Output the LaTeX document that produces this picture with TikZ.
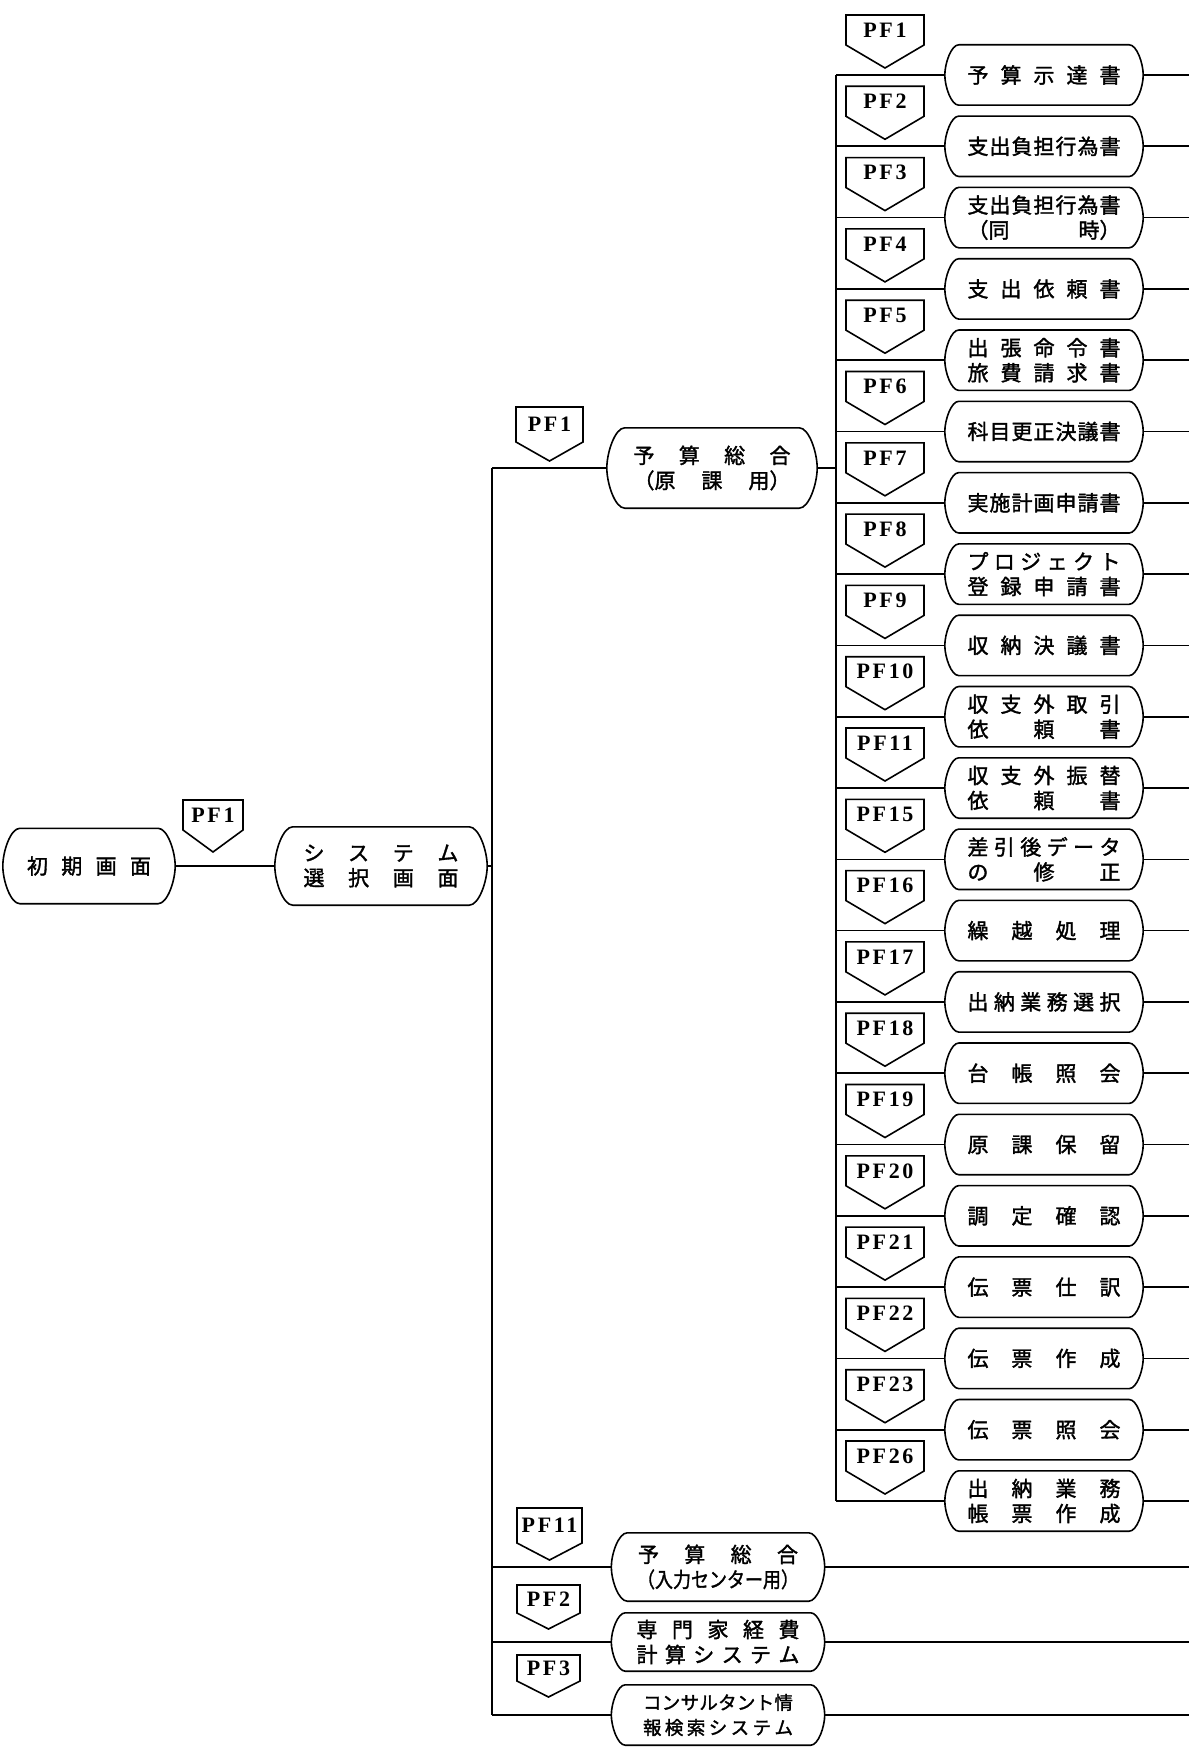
\documentclass[tikz,border=0pt]{standalone}
\usepackage{fontspec}
\usepackage{graphicx}
\setmainfont{Liberation Serif}
\newfontfamily\jpfont[FakeBold=1.6]{Noto Sans CJK JP}
\newfontfamily\pffont[LetterSpace=12]{Liberation Serif}
\usetikzlibrary{calc}
\tikzset{
  ln/.style={line width=1.6pt},
  disp/.style={rectangle, inner sep=0pt, font=\jpfont\fontsize{21}{25}\selectfont, align=center},
  rnode/.style={disp, minimum width=198pt, minimum height=60pt},
  pftext/.style={font=\pffont\bfseries\fontsize{22}{22}\selectfont, inner sep=0pt},
}
\newcommand\wl[1]{\hbox to 153pt{#1}}
% outline of a display box: node name, side bulge
\newcommand\dispout[2]{%
  \draw[ln] ($(#1.north west)+(#2,0)$) -- ($(#1.north east)+(-#2,0)$)
   .. controls ($(#1.north east)+(-0.45*#2,0)$) and ($(#1.east)!0.38!(#1.north east)$) .. (#1.east)
   .. controls ($(#1.east)!0.38!(#1.south east)$) and ($(#1.south east)+(-0.45*#2,0)$) .. ($(#1.south east)+(-#2,0)$)
   -- ($(#1.south west)+(#2,0)$)
   .. controls ($(#1.south west)+(0.45*#2,0)$) and ($(#1.west)!0.38!(#1.south west)$) .. (#1.west)
   .. controls ($(#1.west)!0.38!(#1.north west)$) and ($(#1.north west)+(0.45*#2,0)$) .. ($(#1.north west)+(#2,0)$);
}
% name, top-left coordinate, width, rect height, point height, text
\newcommand\pftag[6]{%
  \draw[ln, line join=miter] (#2) ++(0,#4) -- ++(0,-#4) -- ++(#3,0) -- ++(0,#4) -- ++(-#3/2,#5) -- cycle;
  \node[pftext] (#1) at ($(#2)+(#3/2,#4/2)$) {#6};
}
% index, y, tag text, node text
\newcommand\rrow[4]{%
  \node[rnode] (r#1) at (1044,#2) {#4};
  \dispout{r#1}{14}
  \coordinate (tl#1) at (846,#2-60);
  \pftag{t#1}{tl#1}{78}{30}{23}{#3}
  \draw[ln] (r#1.west -| rv) -- (r#1.west);
  \draw[ln] (r#1.east) -- (r#1.east -| edge);
}
\begin{document}
\begin{tikzpicture}[x=1pt,y=-1pt]
\fill[white] (0,0) rectangle (1189,1747);
\useasboundingbox (0,0) rectangle (1189,1747);
\coordinate (edge) at (1189,0);
\coordinate (mv) at (492,0);
\coordinate (rv) at (836,0);

% left part
\node[disp, minimum width=172pt, minimum height=75pt] (init) at (89,866)
  {\hbox to 124pt{初\hfill 期\hfill 画\hfill 面}};
\dispout{init}{17}
\node[disp, minimum width=212pt, minimum height=78pt] (sys) at (381,866)
  {\hbox to 155pt{シ\hfill ス\hfill テ\hfill ム}\\\hbox to 155pt{選\hfill 択\hfill 画\hfill 面}};
\dispout{sys}{18}
\coordinate (tlinit) at (183,800);
\pftag{tinit}{tlinit}{60}{30}{22}{PF1}
\draw[ln] (init.east) -- (sys.west);

% middle node
\node[disp, minimum width=210pt, minimum height=80pt] (gen) at (712,468)
  {\hbox to 157pt{予\hfill 算\hfill 総\hfill 合}\\\hbox to 157pt{（原\hfill 課\hfill 用）}};
\dispout{gen}{18}
\coordinate (tlgen) at (516,407);
\pftag{tgen}{tlgen}{67}{35}{19}{PF1}

% bottom nodes
\node[disp, minimum width=213pt, minimum height=68pt] (b1) at (718,1567)
  {\hbox to 160pt{予\hfill 算\hfill 総\hfill 合}\\\resizebox{162pt}{\height}{（入力センター用）}};
\dispout{b1}{16}
\node[disp, minimum width=213pt, minimum height=58pt] (b2) at (718,1642)
  {\hbox to 163pt{専\hfill 門\hfill 家\hfill 経\hfill 費}\\\hbox to 163pt{計\hfill 算\hfill シ\hfill ス\hfill テ\hfill ム}};
\dispout{b2}{14}
\node[disp, minimum width=213pt, minimum height=60pt, font=\jpfont\fontsize{18.5}{25}\selectfont] (b3) at (718,1715)
  {\hbox to 150pt{コ\hfill ン\hfill サ\hfill ル\hfill タ\hfill ン\hfill ト\hfill 情}\\\hbox to 150pt{報\hfill 検\hfill 索\hfill シ\hfill ス\hfill テ\hfill ム}};
\dispout{b3}{14}
\coordinate (tlb1) at (517,1508);
\coordinate (tlb2) at (517,1585);
\coordinate (tlb3) at (517,1655);
\pftag{tb1}{tlb1}{65}{35}{17}{PF11}
\pftag{tb2}{tlb2}{63}{28}{16}{PF2}
\pftag{tb3}{tlb3}{63}{26}{16}{PF3}

% main vertical and branches
\draw[ln] (sys.east) -- (sys.east -| mv);
\draw[ln] (gen.west -| mv) -- (b3.west -| mv);
\draw[ln] (gen.west -| mv) -- (gen.west);
\draw[ln] (b1.west -| mv) -- (b1.west);
\draw[ln] (b2.west -| mv) -- (b2.west);
\draw[ln] (b3.west -| mv) -- (b3.west);
\draw[ln] (b1.east) -- (b1.east -| edge);
\draw[ln] (b2.east) -- (b2.east -| edge);
\draw[ln] (b3.east) -- (b3.east -| edge);
\draw[ln] (gen.east) -- (gen.east -| rv);

% right column
\rrow{0}{75}{PF1}{\wl{予\hfill 算\hfill 示\hfill 達\hfill 書}}
\rrow{1}{146.3}{PF2}{\wl{支\hfill 出\hfill 負\hfill 担\hfill 行\hfill 為\hfill 書}}
\rrow{2}{217.6}{PF3}{\wl{支\hfill 出\hfill 負\hfill 担\hfill 行\hfill 為\hfill 書}\\\wl{（同\hfill 時）}}
\rrow{3}{288.9}{PF4}{\wl{支\hfill 出\hfill 依\hfill 頼\hfill 書}}
\rrow{4}{360.2}{PF5}{\wl{出\hfill 張\hfill 命\hfill 令\hfill 書}\\\wl{旅\hfill 費\hfill 請\hfill 求\hfill 書}}
\rrow{5}{431.5}{PF6}{\wl{科\hfill 目\hfill 更\hfill 正\hfill 決\hfill 議\hfill 書}}
\rrow{6}{502.8}{PF7}{\wl{実\hfill 施\hfill 計\hfill 画\hfill 申\hfill 請\hfill 書}}
\rrow{7}{574.1}{PF8}{\wl{プ\hfill ロ\hfill ジ\hfill ェ\hfill ク\hfill ト}\\\wl{登\hfill 録\hfill 申\hfill 請\hfill 書}}
\rrow{8}{645.4}{PF9}{\wl{収\hfill 納\hfill 決\hfill 議\hfill 書}}
\rrow{9}{716.7}{PF10}{\wl{収\hfill 支\hfill 外\hfill 取\hfill 引}\\\wl{依\hfill 頼\hfill 書}}
\rrow{10}{788}{PF11}{\wl{収\hfill 支\hfill 外\hfill 振\hfill 替}\\\wl{依\hfill 頼\hfill 書}}
\rrow{11}{859.3}{PF15}{\wl{差\hfill 引\hfill 後\hfill デ\hfill ー\hfill タ}\\\wl{の\hfill 修\hfill 正}}
\rrow{12}{930.6}{PF16}{\wl{繰\hfill 越\hfill 処\hfill 理}}
\rrow{13}{1001.9}{PF17}{\wl{出\hfill 納\hfill 業\hfill 務\hfill 選\hfill 択}}
\rrow{14}{1073.2}{PF18}{\wl{台\hfill 帳\hfill 照\hfill 会}}
\rrow{15}{1144.5}{PF19}{\wl{原\hfill 課\hfill 保\hfill 留}}
\rrow{16}{1215.8}{PF20}{\wl{調\hfill 定\hfill 確\hfill 認}}
\rrow{17}{1287.1}{PF21}{\wl{伝\hfill 票\hfill 仕\hfill 訳}}
\rrow{18}{1358.4}{PF22}{\wl{伝\hfill 票\hfill 作\hfill 成}}
\rrow{19}{1429.7}{PF23}{\wl{伝\hfill 票\hfill 照\hfill 会}}
\rrow{20}{1501}{PF26}{\wl{出\hfill 納\hfill 業\hfill 務}\\\wl{帳\hfill 票\hfill 作\hfill 成}}
\draw[ln] (r0.west -| rv) -- (r20.west -| rv);
\end{tikzpicture}
\end{document}
